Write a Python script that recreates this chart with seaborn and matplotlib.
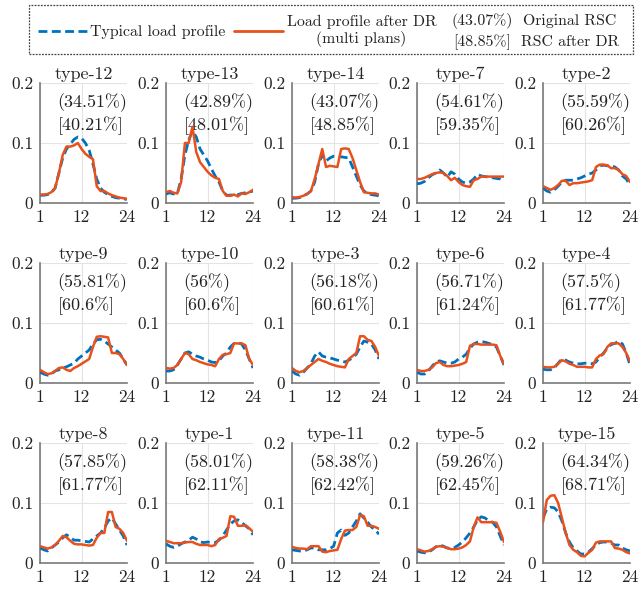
import matplotlib
matplotlib.use("Agg")
import matplotlib.pyplot as plt
from matplotlib.lines import Line2D
from matplotlib.patches import Rectangle
import seaborn as sns
import pandas as pd

hours = list(range(1, 25))

types = ["type-12", "type-13", "type-14", "type-7", "type-2",
         "type-9", "type-10", "type-3", "type-6", "type-4",
         "type-8", "type-1", "type-11", "type-5", "type-15"]

rsc_original = ["34.51%", "42.89%", "43.07%", "54.61%", "55.59%",
                "55.81%", "56%", "56.18%", "56.71%", "57.5%",
                "57.85%", "58.01%", "58.38%", "59.26%", "64.34%"]
rsc_after = ["40.21%", "48.01%", "48.85%", "59.35%", "60.26%",
             "60.6%", "60.6%", "60.61%", "61.24%", "61.77%",
             "61.77%", "62.11%", "62.42%", "62.45%", "68.71%"]

typical = {
    "type-12": [0.013, 0.013, 0.014, 0.017, 0.025, 0.05, 0.075, 0.09, 0.098, 0.106, 0.11, 0.108,
                0.1, 0.088, 0.065, 0.04, 0.025, 0.018, 0.014, 0.011, 0.009, 0.008, 0.007, 0.006],
    "type-13": [0.015, 0.017, 0.015, 0.016, 0.04, 0.08, 0.105, 0.12, 0.11, 0.09, 0.08, 0.07,
                0.057, 0.045, 0.035, 0.02, 0.013, 0.013, 0.014, 0.014, 0.016, 0.017, 0.018, 0.02],
    "type-14": [0.008, 0.008, 0.009, 0.012, 0.015, 0.02, 0.035, 0.065, 0.08, 0.07, 0.075, 0.078,
                0.078, 0.077, 0.076, 0.075, 0.06, 0.045, 0.03, 0.02, 0.016, 0.014, 0.013, 0.012],
    "type-7": [0.032, 0.033, 0.036, 0.042, 0.047, 0.05, 0.055, 0.05, 0.043, 0.052, 0.048, 0.04,
               0.035, 0.033, 0.035, 0.04, 0.048, 0.045, 0.044, 0.043, 0.042, 0.041, 0.04, 0.037],
    "type-2": [0.025, 0.02, 0.018, 0.022, 0.028, 0.035, 0.038, 0.038, 0.038, 0.04, 0.042, 0.045,
               0.048, 0.05, 0.055, 0.062, 0.063, 0.062, 0.062, 0.06, 0.055, 0.045, 0.04, 0.03],
    "type-9": [0.018, 0.015, 0.013, 0.015, 0.02, 0.022, 0.025, 0.027, 0.03, 0.033, 0.04, 0.045,
               0.05, 0.055, 0.065, 0.072, 0.073, 0.07, 0.065, 0.06, 0.055, 0.05, 0.04, 0.03],
    "type-10": [0.02, 0.02, 0.022, 0.03, 0.04, 0.05, 0.052, 0.048, 0.045, 0.043, 0.04, 0.038,
                0.035, 0.034, 0.037, 0.045, 0.05, 0.06, 0.066, 0.067, 0.065, 0.055, 0.04, 0.025],
    "type-3": [0.02, 0.015, 0.013, 0.018, 0.025, 0.032, 0.045, 0.052, 0.045, 0.043, 0.042, 0.04,
               0.038, 0.037, 0.035, 0.038, 0.042, 0.048, 0.06, 0.07, 0.068, 0.065, 0.055, 0.04],
    "type-6": [0.018, 0.015, 0.015, 0.02, 0.028, 0.035, 0.037, 0.035, 0.033, 0.033, 0.035, 0.04,
               0.043, 0.048, 0.058, 0.065, 0.068, 0.069, 0.068, 0.066, 0.064, 0.06, 0.045, 0.03],
    "type-4": [0.023, 0.022, 0.022, 0.025, 0.033, 0.04, 0.038, 0.035, 0.033, 0.032, 0.032, 0.033,
               0.033, 0.032, 0.035, 0.043, 0.05, 0.058, 0.064, 0.066, 0.07, 0.065, 0.05, 0.03],
    "type-8": [0.025, 0.022, 0.02, 0.025, 0.03, 0.035, 0.042, 0.047, 0.043, 0.038, 0.038, 0.037,
               0.036, 0.035, 0.04, 0.045, 0.05, 0.058, 0.07, 0.075, 0.065, 0.055, 0.045, 0.03],
    "type-1": [0.032, 0.028, 0.026, 0.028, 0.032, 0.035, 0.038, 0.043, 0.04, 0.035, 0.034, 0.035,
               0.034, 0.034, 0.038, 0.045, 0.055, 0.065, 0.07, 0.072, 0.068, 0.062, 0.057, 0.047],
    "type-11": [0.022, 0.021, 0.02, 0.02, 0.022, 0.025, 0.025, 0.022, 0.022, 0.022, 0.024, 0.028,
                0.05, 0.055, 0.046, 0.05, 0.06, 0.07, 0.082, 0.075, 0.068, 0.06, 0.055, 0.048],
    "type-5": [0.02, 0.018, 0.017, 0.018, 0.022, 0.027, 0.03, 0.028, 0.025, 0.024, 0.026, 0.03,
               0.035, 0.042, 0.05, 0.06, 0.072, 0.077, 0.075, 0.07, 0.068, 0.06, 0.045, 0.03],
    "type-15": [0.075, 0.09, 0.093, 0.092, 0.085, 0.07, 0.05, 0.035, 0.025, 0.02, 0.015, 0.015,
                0.018, 0.024, 0.03, 0.034, 0.035, 0.035, 0.033, 0.03, 0.03, 0.025, 0.022, 0.02],
}

after_dr = {
    "type-12": [0.014, 0.014, 0.015, 0.018, 0.025, 0.05, 0.08, 0.094, 0.094, 0.096, 0.1, 0.09,
                0.082, 0.077, 0.073, 0.028, 0.02, 0.02, 0.016, 0.013, 0.011, 0.009, 0.008, 0.007],
    "type-13": [0.018, 0.02, 0.017, 0.016, 0.035, 0.1, 0.1, 0.127, 0.085, 0.068, 0.06, 0.052,
                0.046, 0.042, 0.04, 0.02, 0.012, 0.012, 0.014, 0.011, 0.016, 0.015, 0.018, 0.022],
    "type-14": [0.01, 0.009, 0.01, 0.012, 0.015, 0.02, 0.04, 0.065, 0.09, 0.06, 0.062, 0.061,
                0.06, 0.09, 0.091, 0.09, 0.075, 0.055, 0.035, 0.018, 0.017, 0.016, 0.016, 0.014],
    "type-7": [0.04, 0.04, 0.042, 0.045, 0.048, 0.05, 0.051, 0.05, 0.045, 0.038, 0.042, 0.035,
               0.03, 0.028, 0.027, 0.038, 0.04, 0.044, 0.044, 0.044, 0.044, 0.044, 0.044, 0.044],
    "type-2": [0.028, 0.025, 0.022, 0.025, 0.03, 0.037, 0.037, 0.03, 0.033, 0.033, 0.034, 0.035,
               0.036, 0.038, 0.06, 0.064, 0.064, 0.063, 0.058, 0.058, 0.055, 0.048, 0.045, 0.035],
    "type-9": [0.022, 0.018, 0.015, 0.016, 0.02, 0.025, 0.026, 0.022, 0.02, 0.025, 0.028, 0.032,
               0.036, 0.04, 0.06, 0.077, 0.078, 0.077, 0.076, 0.05, 0.05, 0.048, 0.04, 0.03],
    "type-10": [0.025, 0.024, 0.025, 0.03, 0.04, 0.05, 0.048, 0.04, 0.038, 0.035, 0.033, 0.031,
                0.03, 0.028, 0.04, 0.047, 0.048, 0.05, 0.066, 0.066, 0.066, 0.063, 0.04, 0.03],
    "type-3": [0.025, 0.02, 0.018, 0.02, 0.025, 0.03, 0.035, 0.04, 0.037, 0.035, 0.032, 0.03,
               0.028, 0.027, 0.026, 0.04, 0.045, 0.05, 0.078, 0.078, 0.072, 0.07, 0.06, 0.045],
    "type-6": [0.022, 0.02, 0.02, 0.022, 0.026, 0.033, 0.035, 0.03, 0.028, 0.028, 0.029, 0.03,
               0.032, 0.035, 0.062, 0.065, 0.065, 0.064, 0.064, 0.064, 0.064, 0.063, 0.045, 0.032],
    "type-4": [0.027, 0.026, 0.026, 0.027, 0.032, 0.038, 0.036, 0.032, 0.03, 0.027, 0.027, 0.027,
               0.026, 0.026, 0.04, 0.046, 0.048, 0.06, 0.066, 0.066, 0.066, 0.06, 0.05, 0.036],
    "type-8": [0.028, 0.026, 0.024, 0.026, 0.03, 0.037, 0.045, 0.043, 0.037, 0.032, 0.031, 0.031,
               0.03, 0.029, 0.03, 0.042, 0.05, 0.05, 0.085, 0.085, 0.06, 0.057, 0.05, 0.037],
    "type-1": [0.037, 0.035, 0.033, 0.033, 0.033, 0.034, 0.035, 0.035, 0.032, 0.03, 0.03, 0.03,
               0.028, 0.03, 0.04, 0.042, 0.045, 0.078, 0.077, 0.062, 0.062, 0.063, 0.058, 0.052],
    "type-11": [0.027, 0.025, 0.024, 0.024, 0.023, 0.028, 0.028, 0.028, 0.019, 0.018, 0.02, 0.021,
                0.022, 0.04, 0.054, 0.055, 0.055, 0.06, 0.08, 0.078, 0.062, 0.062, 0.06, 0.057],
    "type-5": [0.023, 0.021, 0.019, 0.02, 0.023, 0.027, 0.028, 0.027, 0.025, 0.023, 0.023, 0.024,
               0.026, 0.03, 0.036, 0.06, 0.076, 0.068, 0.068, 0.068, 0.068, 0.067, 0.052, 0.035],
    "type-15": [0.068, 0.105, 0.112, 0.113, 0.1, 0.075, 0.05, 0.03, 0.022, 0.018, 0.012, 0.011,
                0.017, 0.022, 0.034, 0.036, 0.036, 0.036, 0.036, 0.025, 0.024, 0.022, 0.018, 0.016],
}

x_ticks = [1, 12, 24]
y_ticks = [0, 0.1, 0.2]
y_tick_labels = ["0", "0.1", "0.2"]

BLUE = "#0072BD"
RED = "#E8501C"

sns.set_style("white")
plt.rcParams["font.family"] = ["cmr10", "DejaVu Serif"]
plt.rcParams["mathtext.fontset"] = "cm"
plt.rcParams["axes.unicode_minus"] = False

W, H = 640, 592
fig = plt.figure(figsize=(W / 100, H / 100), dpi=100)

col_left = [40, 166, 292, 417, 543]
row_top = [83, 263, 443]
aw, ah = 87, 120

for i, name in enumerate(types):
    r, c = divmod(i, 5)
    ax = fig.add_axes([col_left[c] / W, 1 - (row_top[r] + ah) / H, aw / W, ah / H])
    df = pd.DataFrame({"hour": hours, "typical": typical[name], "after": after_dr[name]})
    sns.lineplot(data=df, x="hour", y="typical", ax=ax, color=BLUE, linestyle="--",
                 linewidth=2.0, zorder=3)
    ax.lines[-1].set_dashes([3.2, 1.6])
    sns.lineplot(data=df, x="hour", y="after", ax=ax, color=RED, linewidth=1.8, zorder=4)
    ax.set_xlim(1, 24)
    ax.set_ylim(0, 0.2)
    ax.set_xticks(x_ticks)
    ax.set_xticklabels([str(t) for t in x_ticks])
    ax.set_yticks(y_ticks)
    ax.set_yticklabels(y_tick_labels)
    ax.set_xlabel("")
    ax.set_ylabel("")
    ax.grid(True, color="#e3e3e3", linewidth=0.8, zorder=0)
    ax.set_axisbelow(True)
    for s in ["top", "right"]:
        ax.spines[s].set_visible(False)
    for s in ["left", "bottom"]:
        ax.spines[s].set_color("#7a7a7a")
        ax.spines[s].set_linewidth(1.2)
    ax.tick_params(length=0, labelsize=12.5, pad=5, colors="#222222")
    ax.set_title(name, fontsize=13, pad=3)
    ax.text(0.2, 0.833, f"({rsc_original[i]})", transform=ax.transAxes, fontsize=13,
            ha="left", va="center", color="#222222", zorder=2)
    ax.text(0.2, 0.642, f"[{rsc_after[i]}]", transform=ax.transAxes, fontsize=13,
            ha="left", va="center", color="#222222", zorder=2)

# Legend box
fig.patches.append(Rectangle((29 / W, 1 - 54 / H), (633 - 29) / W, 49 / H,
                             transform=fig.transFigure, fill=False, edgecolor="#444444",
                             linewidth=0.9, linestyle=(0, (1.5, 1.0))))
h1 = Line2D([], [], color=BLUE, linestyle="--", linewidth=2.0, dashes=[3.2, 1.6])
h2 = Line2D([], [], color=RED, linewidth=2.0)
leg = fig.legend(handles=[h1, h2],
                 labels=["Typical load profile", "Load profile after DR\n(multi plans)"],
                 loc="center left", bbox_to_anchor=(38 / W, 1 - 31 / H), ncol=2,
                 frameon=False, fontsize=11.4, handlelength=3.1, handletextpad=0.2,
                 columnspacing=0.55, borderpad=0, borderaxespad=0)
for t in leg.get_texts():
    t.set_multialignment("center")
    t.set_color("#222222")

fig.text(482 / W, 1 - 21 / H, "(43.07%)", ha="center", va="center", fontsize=11.4, color="#222222")
fig.text(482 / W, 1 - 42 / H, "[48.85%]", ha="center", va="center", fontsize=11.4, color="#222222")
fig.text(570 / W, 1 - 21 / H, "Original RSC", ha="center", va="center", fontsize=11.4, color="#222222")
fig.text(570 / W, 1 - 42 / H, "RSC after DR", ha="center", va="center", fontsize=11.4, color="#222222")

fig.savefig("out.png", dpi=100)
